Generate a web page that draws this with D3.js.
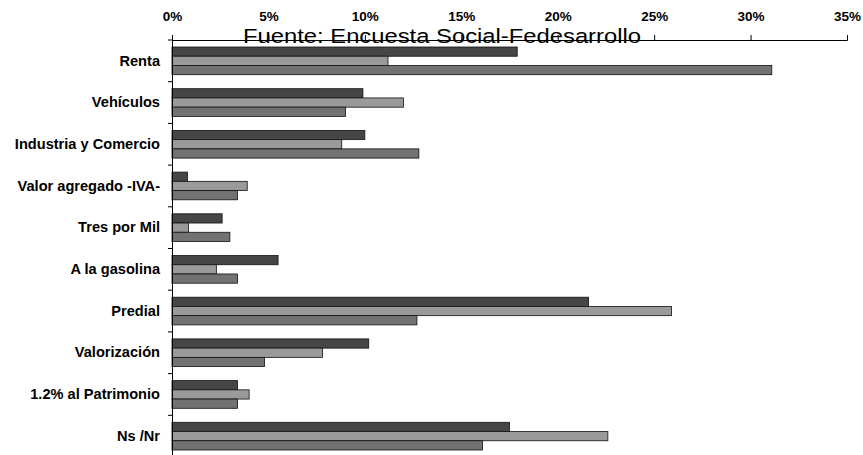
<!DOCTYPE html>
<html><head><meta charset="utf-8">
<script src="https://cdn.jsdelivr.net/npm/d3@7"></script>
<style>body{margin:0;background:#fff}svg{display:block}</style>
</head><body>
<svg id="c" width="863" height="455"></svg>
<script>
const categories = ["Renta","Vehículos","Industria y Comercio","Valor agregado -IVA-","Tres por Mil","A la gasolina","Predial","Valorización","1.2% al Patrimonio","Ns /Nr"];
const serie1 = [17.9, 9.9, 10.0, 0.8, 2.6, 5.5, 21.6, 10.2, 3.4, 17.5];
const serie2 = [11.2, 12.0, 8.8, 3.9, 0.85, 2.3, 25.9, 7.8, 4.0, 22.6];
const serie3 = [31.1, 9.0, 12.8, 3.4, 3.0, 3.4, 12.7, 4.8, 3.4, 16.1];
const tickValues = [0, 5, 10, 15, 20, 25, 30, 35];
const title = "Fuente: Encuesta Social-Fedesarrollo";

const series = [serie1, serie2, serie3];
const fills = ["#464646", "#9a9a9a", "#727272"];
const FONT = "Liberation Sans, Arial, sans-serif";

const svg = d3.select("#c");
const x = d3.scaleLinear().domain([0, 35]).range([172, 847]);
const y = d3.scaleBand().domain(categories).range([40, 457]);
const inner = d3.scaleBand().domain([0,1,2]).range([7, y.bandwidth()-7]);

// bars
series.forEach((s, si) => {
  svg.append("g").selectAll("rect").data(s).join("rect")
    .attr("x", x(0))
    .attr("y", (d,i) => y(categories[i]) + inner(si))
    .attr("width", d => x(d) - x(0))
    .attr("height", inner.bandwidth())
    .attr("fill", fills[si])
    .attr("stroke", "#111")
    .attr("stroke-width", 0.8);
});

// top axis
const xAxis = d3.axisTop(x).tickValues(tickValues).tickFormat(d => d + "%").tickSize(5).tickSizeOuter(5);
const gx = svg.append("g").attr("transform", "translate(0,40)").call(xAxis);
gx.selectAll("text").attr("font-family", FONT)
  .attr("font-weight", "bold").attr("font-size", 13.5).attr("fill", "#000").attr("dy", "-11");
gx.selectAll("line,path").attr("stroke", "#000");

// left axis
const yAxis = d3.axisLeft(y).tickSize(0).tickPadding(12);
const gy = svg.append("g").attr("transform", `translate(${x(0)},0)`).call(yAxis);
gy.select(".domain").attr("stroke", "#000");
gy.selectAll("text").attr("font-family", FONT)
  .attr("font-weight", "bold").attr("font-size", 14.6).attr("fill", "#000");
// boundary ticks
svg.append("g").selectAll("line").data(categories).join("line")
  .attr("x1", x(0) - 4).attr("x2", x(0))
  .attr("y1", d => y(d)).attr("y2", d => y(d))
  .attr("stroke", "#000");

// title overlapping axis
svg.append("text").attr("x", 442).attr("y", 43).attr("text-anchor", "middle")
  .attr("font-family", FONT).attr("font-size", 20.5)
  .attr("textLength", 398).attr("lengthAdjust", "spacingAndGlyphs")
  .attr("fill", "#000").text(title);
// redraw axis line over title
svg.append("line").attr("x1", x(0)).attr("x2", x(35)).attr("y1", 40.5).attr("y2", 40.5)
  .attr("stroke", "#000");
</script>
</body></html>
